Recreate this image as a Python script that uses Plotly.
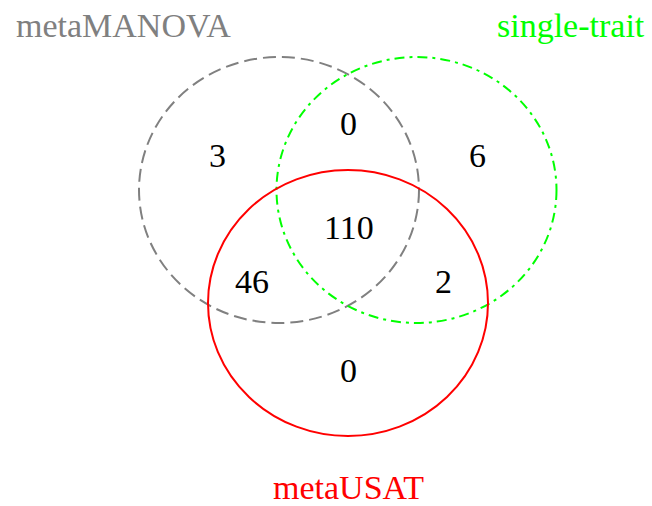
import plotly.graph_objects as go

# ---- data ----
set_names = ["metaMANOVA", "single-trait", "metaUSAT"]
set_colors = ["#808080", "#00FF00", "#FF0000"]
set_dash = ["13px,6px", "10px,5px,3px,5px", "solid"]

region_names = ["metaMANOVA only", "metaMANOVA & single-trait", "single-trait only",
                "all three", "metaMANOVA & metaUSAT", "single-trait & metaUSAT", "metaUSAT only"]
region_counts = [3, 0, 6, 110, 46, 2, 0]

# ---- layout geometry (pixel space) ----
circle_centers = [(279, 190), (416.5, 190), (348, 303)]
circle_w, circle_h = 280, 266
region_pos = [(217, 155.5), (348, 123.5), (477, 155.5), (349, 227.5), (252, 281.5), (443.5, 281.5), (348, 370.5)]
label_pos = [(14, 25.5, "left"), (647, 25.5, "right"), (348, 487, "center")]

FONT = "Liberation Serif, Times New Roman, serif"
W, H = 652, 506

fig = go.Figure()
fig.add_trace(go.Scatter(x=[0, W], y=[0, H], mode="markers",
                         marker=dict(opacity=0), hoverinfo="skip", showlegend=False))

for (cx, cy), col, dash in zip(circle_centers, set_colors, set_dash):
    fig.add_shape(type="circle", xref="x", yref="y",
                  x0=cx - circle_w / 2, x1=cx + circle_w / 2,
                  y0=cy - circle_h / 2, y1=cy + circle_h / 2,
                  line=dict(color=col, width=2, dash=dash))

for (x, y), c in zip(region_pos, region_counts):
    fig.add_annotation(x=x, y=y, text=str(c), showarrow=False,
                       xanchor="center", yanchor="middle",
                       font=dict(family=FONT, size=34, color="black"))

for (x, y, anc), name, col in zip(label_pos, set_names, set_colors):
    fig.add_annotation(x=x, y=y, text=name, showarrow=False,
                       xanchor=anc, yanchor="middle",
                       font=dict(family=FONT, size=34, color=col))

fig.update_layout(width=W, height=H, margin=dict(l=0, r=0, t=0, b=0),
                  plot_bgcolor="white", paper_bgcolor="white",
                  xaxis=dict(range=[0, W], visible=False, fixedrange=True),
                  yaxis=dict(range=[H, 0], visible=False, fixedrange=True),
                  showlegend=False)

fig.write_html("out.html", config={"displayModeBar": False},
               post_script="document.body.style.margin='0px';document.body.style.overflow='hidden';")
